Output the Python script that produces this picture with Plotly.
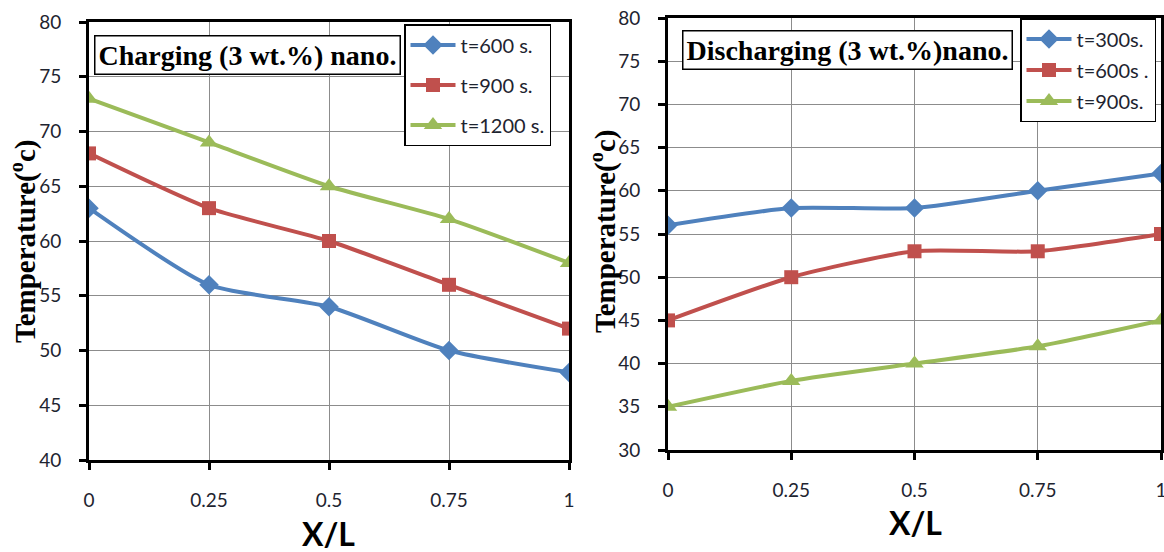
import plotly.graph_objects as go

x_vals = [0, 0.25, 0.5, 0.75, 1]
x_ticks = ["0", "0.25", "0.5", "0.75", "1"]

# Charging
ch_names = ["t=600 s.", "t=900 s.", "t=1200 s."]
ch_600 = [63, 56, 54, 50, 48]
ch_900 = [68, 63, 60, 56, 52]
ch_1200 = [73, 69, 65, 62, 58]

# Discharging
dc_names = ["t=300s.", "t=600s .", "t=900s."]
dc_300 = [56, 58, 58, 60, 62]
dc_600 = [45, 50, 53, 53, 55]
dc_900 = [35, 38, 40, 42, 45]

colors = ["#4F81BD", "#C0504D", "#9BBB59"]
symbols = ["diamond", "square", "triangle-up"]
msizes = [15, 14, 16]

W, H = 1164, 552
def px_x(p): return p / W
def px_y(p): return 1 - p / H

fig = go.Figure()
for i, (nm, ys) in enumerate(zip(ch_names, [ch_600, ch_900, ch_1200])):
    fig.add_trace(go.Scatter(x=x_vals, y=ys, name=nm, mode="lines+markers",
                             line=dict(color=colors[i], width=4, shape="spline", smoothing=0.6),
                             marker=dict(symbol=symbols[i], size=msizes[i], color=colors[i]),
                             xaxis="x", yaxis="y", legend="legend", legendgroup="c%d" % i))
for i, (nm, ys) in enumerate(zip(dc_names, [dc_300, dc_600, dc_900])):
    fig.add_trace(go.Scatter(x=x_vals, y=ys, name=nm, mode="lines+markers",
                             line=dict(color=colors[i], width=4, shape="spline", smoothing=0.6),
                             marker=dict(symbol=symbols[i], size=msizes[i], color=colors[i]),
                             xaxis="x2", yaxis="y2", legend="legend2", legendgroup="d%d" % i))

sans = "Lato, Open Sans, sans-serif"
tickfont = dict(family=sans, size=19, color="#1e2430")
axcommon = dict(showline=True, linecolor="black", linewidth=3, mirror=True,
                showgrid=True, gridcolor="#8c8c8c", gridwidth=1,
                ticks="outside", ticklen=7, tickwidth=2.5, tickcolor="black",
                tickfont=tickfont, zeroline=False, fixedrange=True, automargin=False,
                ticklabeloverflow="allow")

fig.update_layout(
    width=W, height=H, margin=dict(l=0, r=0, t=0, b=0, autoexpand=False),
    paper_bgcolor="white", plot_bgcolor="white",
    xaxis=dict(domain=[px_x(89), px_x(569)], range=[0, 1], tickvals=x_vals, ticktext=x_ticks,
               anchor="y", ticklabelstandoff=14, **axcommon),
    yaxis=dict(domain=[px_y(460), px_y(22)], range=[40, 80], dtick=5, anchor="x",
               ticklabelstandoff=14, **axcommon),
    xaxis2=dict(domain=[px_x(668), px_x(1161)], range=[0, 1], tickvals=x_vals, ticktext=x_ticks,
                anchor="y2", ticklabelstandoff=14, **axcommon),
    yaxis2=dict(domain=[px_y(450), px_y(18)], range=[30, 80], dtick=5, anchor="x2",
                ticklabelstandoff=14, **axcommon),
    legend=dict(x=px_x(404), y=px_y(24), xanchor="left", yanchor="top",
                bgcolor="white", bordercolor="black", borderwidth=1.5,
                font=dict(family=sans, size=20, color="#1e2430"),
                tracegroupgap=11, itemwidth=45),
    legend2=dict(x=px_x(1020), y=px_y(18), xanchor="left", yanchor="top",
                 bgcolor="white", bordercolor="black", borderwidth=1.5,
                 font=dict(family=sans, size=20, color="#1e2430"),
                 tracegroupgap=2, itemwidth=45),
    showlegend=True,
)

serif = "Liberation Serif, Times New Roman, serif"
fig.add_annotation(x=px_x(247), y=px_y(55), xref="paper", yref="paper",
                   xanchor="center", yanchor="middle",
                   text="<b>Charging (3 wt.%) nano.</b>", showarrow=False,
                   font=dict(family=serif, size=28, color="black"),
                   bgcolor="white", bordercolor="black", borderwidth=1.5, borderpad=3)
fig.add_annotation(x=px_x(847), y=px_y(50), xref="paper", yref="paper",
                   xanchor="center", yanchor="middle",
                   text="<b>Discharging (3 wt.%)nano.</b>", showarrow=False,
                   font=dict(family=serif, size=28, color="black"),
                   bgcolor="white", bordercolor="black", borderwidth=1.5, borderpad=3)
for xp, yp in [(24, 242), (603, 232)]:
    fig.add_annotation(x=px_x(xp), y=px_y(yp), xref="paper", yref="paper",
                       xanchor="center", yanchor="middle",
                       text="<b>Temperature(<sup>o</sup>c)</b>", showarrow=False, textangle=-90,
                       font=dict(family=serif, size=29, color="black"))
for xp, yp in [(328, 533), (915, 522)]:
    fig.add_annotation(x=px_x(xp), y=px_y(yp), xref="paper", yref="paper",
                       xanchor="center", yanchor="middle",
                       text="<b>X/L</b>", showarrow=False,
                       font=dict(family=sans, size=32, color="black"))

fig.write_html("out.html")
